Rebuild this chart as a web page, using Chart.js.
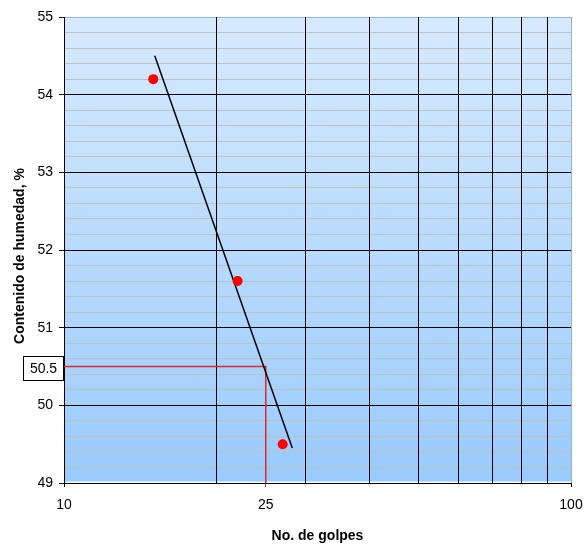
<!DOCTYPE html>
<html>
<head>
<meta charset="utf-8">
<script src="https://cdn.jsdelivr.net/npm/chart.js@4"></script>
<style>
  html, body { margin: 0; padding: 0; background: #ffffff; }
  canvas { display: block; }
</style>
</head>
<body>
<canvas id="grafico" width="584" height="546"></canvas>
<script>
// Ensayo de límite líquido: número de golpes vs contenido de humedad
const golpes = [15, 22, 27];
const humedad = [54.2, 51.6, 49.5];

// Línea de tendencia (extremos)
const tendenciaGolpes = [15.1, 28.2];
const tendenciaHumedad = [54.5, 49.45];

// Lectura a 25 golpes
const golpesReferencia = 25;
const humedadReferencia = 50.5;

// Ejes
const divisionesX = [10, 20, 25, 30, 40, 50, 60, 70, 80, 90, 100];
const etiquetasX = [10, 25, 100];
const minY = 49, maxY = 55, pasoY = 0.2;

const FUENTE = "'Liberation Sans', Arial, sans-serif";
const esEntero = v => Math.abs(v - Math.round(v)) < 1e-6;

const fondoArea = {
  id: 'fondoArea',
  beforeDraw(chart) {
    const { ctx, chartArea: a } = chart;
    const g = ctx.createLinearGradient(0, a.top, 0, a.bottom);
    g.addColorStop(0, '#d6eaff');
    g.addColorStop(1, '#99cbfe');
    ctx.save();
    ctx.fillStyle = g;
    ctx.fillRect(a.left, a.top, a.right - a.left, a.bottom - a.top - 1.5);
    ctx.restore();
  }
};

const anotaciones = {
  id: 'anotaciones',
  afterDraw(chart) {
    const { ctx, chartArea: a, scales } = chart;
    ctx.save();
    // Recuadro con el valor leído
    const yv = scales.y.getPixelForValue(humedadReferencia);
    const x0 = 23.5, w = 40, h = 24;
    const y0 = Math.round(yv - h / 2) + 1.5;
    ctx.fillStyle = '#ffffff';
    ctx.fillRect(x0, y0, w, h);
    ctx.strokeStyle = '#000000';
    ctx.lineWidth = 1;
    ctx.strokeRect(x0, y0, w, h);
    ctx.fillStyle = '#000000';
    ctx.font = '14px ' + FUENTE;
    ctx.textAlign = 'center';
    ctx.textBaseline = 'middle';
    ctx.fillText(String(humedadReferencia), x0 + w / 2, y0 + h / 2 + 0.5);

    // Títulos de ejes
    ctx.font = 'bold 14px ' + FUENTE;
    ctx.fillText('No. de golpes', (a.left + a.right) / 2, 536);
    ctx.translate(20, 256);
    ctx.rotate(-Math.PI / 2);
    ctx.fillText('Contenido de humedad, %', 0, 0);
    ctx.restore();
  }
};

new Chart(document.getElementById('grafico'), {
  type: 'scatter',
  data: {
    datasets: [
      {
        label: 'Puntos',
        data: golpes.map((g, i) => ({ x: g, y: humedad[i] })),
        backgroundColor: '#ff0000',
        borderColor: '#ff0000',
        pointRadius: 5,
        pointBorderWidth: 0,
        order: 1
      },
      {
        label: 'Tendencia',
        data: tendenciaGolpes.map((g, i) => ({ x: g, y: tendenciaHumedad[i] })),
        showLine: true,
        borderColor: '#000000',
        borderWidth: 1.5,
        pointRadius: 0,
        order: 2
      },
      {
        label: 'Lectura',
        data: [
          { x: 10, y: humedadReferencia },
          { x: golpesReferencia, y: humedadReferencia },
          { x: golpesReferencia, y: minY }
        ],
        showLine: true,
        borderColor: '#e3262b',
        borderWidth: 1.5,
        pointRadius: 0,
        order: 3
      }
    ]
  },
  options: {
    responsive: false,
    animation: false,
    devicePixelRatio: 1,
    layout: { padding: { top: 17, right: 13, left: 0, bottom: 0 } },
    plugins: {
      legend: { display: false },
      tooltip: { enabled: false }
    },
    scales: {
      x: {
        type: 'logarithmic',
        min: 10,
        max: 100,
        afterBuildTicks(scale) {
          scale.ticks = divisionesX.map(v => ({ value: v }));
        },
        afterFit(scale) {
          scale.height = 63;
          scale.paddingLeft = 0;
          scale.paddingRight = 0;
        },
        border: { display: true, color: '#000000', width: 1 },
        grid: {
          z: -1,
          drawOnChartArea: true,
          tickLength: 4,
          color: c => {
            const v = c.tick ? c.tick.value : null;
            if (v === 10 || v === golpesReferencia) return 'rgba(0,0,0,0)';
            if (v === 100) return '#8eb4e3';
            return '#000000';
          },
          tickColor: c => {
            const v = c.tick ? c.tick.value : null;
            if (v === golpesReferencia) return '#e3262b';
            return (v === 10 || v === 100) ? '#000000' : 'rgba(0,0,0,0)';
          }
        },
        ticks: {
          autoSkip: false,
          maxRotation: 0,
          padding: 10,
          color: '#000000',
          font: { family: FUENTE, size: 14 },
          callback: v => etiquetasX.includes(v) ? String(v) : ''
        }
      },
      y: {
        type: 'linear',
        min: minY,
        max: maxY,
        afterFit(scale) {
          scale.width = 64;
          scale.paddingTop = 0;
          scale.paddingBottom = 0;
        },
        border: { display: true, color: '#000000', width: 1 },
        grid: {
          z: -2,
          tickLength: 5,
          color: c => {
            const v = c.tick ? c.tick.value : null;
            if (v === null) return 'rgba(0,0,0,0)';
            if (Math.abs(v - maxY) < 1e-6) return '#8eb4e3';
            return esEntero(v) ? '#000000' : '#c0c0c0';
          },
          tickColor: c => (c.tick && esEntero(c.tick.value)) ? '#000000' : 'rgba(0,0,0,0)'
        },
        ticks: {
          stepSize: pasoY,
          autoSkip: false,
          padding: 6,
          color: '#000000',
          font: { family: FUENTE, size: 14 },
          callback: v => esEntero(v) ? String(Math.round(v)) : ''
        }
      }
    }
  },
  plugins: [fondoArea, anotaciones]
});
</script>
</body>
</html>
